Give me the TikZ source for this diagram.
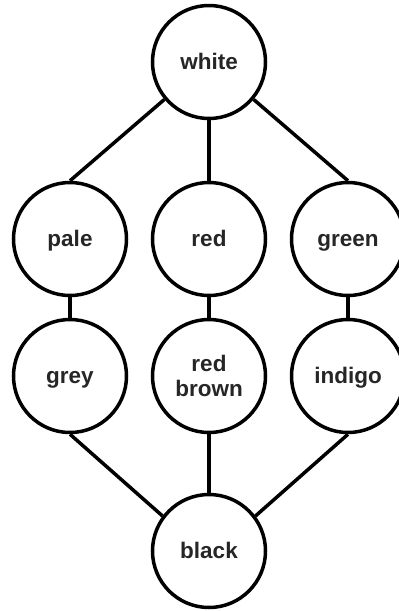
\documentclass[tikz,border=0pt]{standalone}
\usepackage{fontspec}
\setmainfont{Liberation Sans}
\begin{document}
\begin{tikzpicture}[x=1pt,y=-1pt,
  cnode/.style={circle,draw,line width=3.5pt,minimum size=113pt,inner sep=0pt,font=\fontsize{22.5}{25}\selectfont\bfseries,text=black!85,text height=14pt,text depth=0pt},
  cnode2/.style={circle,draw,line width=3.5pt,minimum size=113pt,inner sep=0pt,align=center,font=\fontsize{22.5}{25}\selectfont\bfseries,text=black!85},
  edge/.style={line width=3.5pt}]
\useasboundingbox (0,0) rectangle (399,611);
\node[cnode] (white) at (209,62) {white};
\node[cnode] (pale) at (70,239) {pale};
\node[cnode] (red) at (209,239) {red};
\node[cnode] (green) at (348,239) {green};
\node[cnode] (grey) at (70,376) {grey};
\node[cnode2] (redbrown) at (209,376) {red\\brown};
\node[cnode] (indigo) at (348,376) {indigo};
\node[cnode] (black) at (209,551) {black};
\draw[edge] (white.220) -- (pale.north);
\draw[edge] (white) -- (red);
\draw[edge] (white.320) -- (green.north);
\draw[edge] (pale) -- (grey);
\draw[edge] (red) -- (redbrown);
\draw[edge] (green) -- (indigo);
\draw[edge] (grey.south) -- (black.143);
\draw[edge] (redbrown) -- (black);
\draw[edge] (indigo.south) -- (black.37);
\end{tikzpicture}
\end{document}
